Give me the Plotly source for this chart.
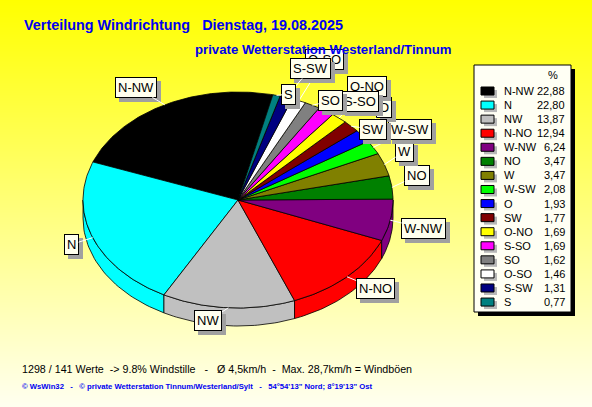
import numpy as np
import plotly.graph_objects as go

# Windrichtungen und Anteile in Prozent (Reihenfolge wie in der Legende)
richtungen = ["N-NW", "N", "NW", "N-NO", "W-NW", "NO", "W", "W-SW",
              "O", "SW", "O-NO", "S-SO", "SO", "O-SO", "S-SW", "S"]
anteile = [22.88, 22.80, 13.87, 12.94, 6.24, 3.47, 3.47, 2.08,
           1.93, 1.77, 1.69, 1.69, 1.62, 1.46, 1.31, 0.77]
farben = ["#000000", "#00FFFF", "#C0C0C0", "#FF0000", "#800080", "#008000",
          "#808000", "#00FF00", "#0000FF", "#800000", "#FFFF00", "#FF00FF",
          "#808080", "#FFFFFF", "#000080", "#008080"]

titel1 = "Verteilung Windrichtung\u00a0\u00a0\u00a0Dienstag, 19.08.2025"
titel2 = "private Wetterstation Westerland/Tinnum"
info1 = ("1298 / 141 Werte \u00a0-> 9.8% Windstille \u00a0\u00a0-\u00a0\u00a0\u00a0\u00d8 4,5km/h"
         " \u00a0- \u00a0Max. 28,7km/h = Windb\u00f6en")
info2 = ("\u00a9 WsWin32 \u00a0\u00a0- \u00a0\u00a0\u00a9 private Wetterstation Tinnum/Westerland/Sylt"
         " \u00a0\u00a0- \u00a0\u00a054\u00b054'13\" Nord; 8\u00b019'13\" Ost")

W, H = 592, 407
cx, cy, rx, ry, tiefe = 238, 200, 155, 108, 18
start = 77  # Winkel der ersten Kante (Grad, gegen den Uhrzeigersinn)

# Verschiebung der Beschriftungskaesten (Pixel), damit sie sich wie im Original verteilen
label_versatz = [(-15, 2), (7, -1), (-18, -9), (7, -4), (4, 4), (-5, -9), (-8, -6),
                 (10, -7), (-3, -15), (0, 18), (8, -15), (17, 8), (4, 15),
                 (14, -21), (15, -8), (5, 20)]


def rand(t, dy=0.0):
    t = np.radians(t)
    return cx + rx * np.cos(t), cy - ry * np.sin(t) + dy


fig = go.Figure()

# Hintergrund mit Verlauf gelb -> hell
fig.add_trace(go.Heatmap(z=[[0, 0], [1, 1]], x=[0, W], y=[0, H], zsmooth="best",
                         colorscale=[[0, "#FFFF00"], [1, "#FFFFF0"]],
                         showscale=False, hoverinfo="skip"))

summe = sum(anteile)
grenzen = [start]
for p in anteile:
    grenzen.append(grenzen[-1] + p / summe * 360)

# Seitenwand (vorne sichtbarer Teil)
for i, farbe in enumerate(farben):
    a0, a1 = max(grenzen[i], 180), min(grenzen[i + 1], 360)
    if a1 <= a0:
        continue
    t = np.linspace(a0, a1, 40)
    ox, oy = rand(t)
    ux, uy = rand(t[::-1], tiefe)
    fig.add_trace(go.Scatter(x=np.concatenate([ox, ux, ox[:1]]),
                             y=np.concatenate([oy, uy, oy[:1]]),
                             fill="toself", fillcolor=farbe, mode="lines",
                             line=dict(color="black", width=0.8),
                             hoverinfo="skip", showlegend=False))

# Oberseite der Tortenstuecke
for i, (name, farbe) in enumerate(zip(richtungen, farben)):
    t = np.linspace(grenzen[i], grenzen[i + 1], max(int(anteile[i] * 4), 6))
    ex, ey = rand(t)
    fig.add_trace(go.Scatter(x=np.concatenate([[cx], ex, [cx]]),
                             y=np.concatenate([[cy], ey, [cy]]),
                             fill="toself", fillcolor=farbe, mode="lines",
                             line=dict(color="black", width=0.8),
                             name=name, hoverinfo="name", showlegend=False))

# Beschriftungen mit Schatten und weisser Fuehrungslinie
for i, name in enumerate(richtungen):
    mitte = (grenzen[i] + grenzen[i + 1]) / 2
    px_, py_ = rand(mitte)
    m = np.radians(mitte)
    lx = cx + (rx + 30) * np.cos(m) + label_versatz[i][0]
    ly = cy - (ry + 22) * np.sin(m) + label_versatz[i][1]
    fig.add_annotation(x=lx, y=ly, text=name, showarrow=False, xshift=4, yshift=-4,
                       font=dict(family="Liberation Sans", size=13, color="#A0A0A0"),
                       bgcolor="#A0A0A0", bordercolor="#A0A0A0", borderwidth=1, borderpad=2)
    fig.add_annotation(x=px_, y=py_, ax=lx, ay=ly, axref="x", ayref="y", text=name,
                       showarrow=True, arrowhead=0, arrowwidth=1, arrowcolor="white",
                       font=dict(family="Liberation Sans", size=13, color="black"),
                       bgcolor="#FFFFEE", bordercolor="black", borderwidth=1, borderpad=2)

# Legende als Tabelle
shapes = [dict(type="rect", x0=478, y0=69, x1=575, y1=316, fillcolor="black",
               line=dict(width=0)),
          dict(type="rect", x0=474, y0=65, x1=571, y1=312, fillcolor="#FFFFF4",
               line=dict(color="black", width=1))]
fig.add_annotation(x=553, y=75, text="%", showarrow=False,
                   font=dict(family="Liberation Sans", size=11, color="black"))
for i, (name, wert, farbe) in enumerate(zip(richtungen, anteile, farben)):
    yz = 91 + i * 14.07
    shapes.append(dict(type="rect", x0=484, y0=yz - 1, x1=497, y1=yz + 7,
                       fillcolor="#B8B8B8", line=dict(width=0)))
    shapes.append(dict(type="rect", x0=481, y0=yz - 4, x1=494, y1=yz + 4,
                       fillcolor=farbe, line=dict(color="black", width=1)))
    fig.add_annotation(x=502, y=yz, text=name, showarrow=False, xanchor="left",
                       font=dict(family="Liberation Sans", size=11, color="black"))
    fig.add_annotation(x=567, y=yz, text=f"{wert:.2f}".replace(".", ","),
                       showarrow=False, xanchor="right",
                       font=dict(family="Liberation Sans", size=11, color="black"))

# Titel und Fusszeilen
fig.add_annotation(x=22, y=25, text=titel1, showarrow=False, xanchor="left",
                   font=dict(family="Liberation Sans", size=14.4, color="#0000F0", weight="bold"))
fig.add_annotation(x=193, y=49, text=titel2, showarrow=False, xanchor="left",
                   font=dict(family="Liberation Sans", size=13.2, color="#0000F0", weight="bold"))
fig.add_annotation(x=20, y=369, text=info1, showarrow=False, xanchor="left",
                   font=dict(family="Liberation Sans", size=10.7, color="black"))
fig.add_annotation(x=20, y=386, text=info2, showarrow=False, xanchor="left",
                   font=dict(family="Liberation Sans", size=7.7, color="#0000F0", weight="bold"))

fig.update_layout(width=W, height=H, margin=dict(l=0, r=0, t=0, b=0),
                  paper_bgcolor="#FFFFF0", plot_bgcolor="#FFFFF0", shapes=shapes,
                  xaxis=dict(range=[0, W], visible=False, fixedrange=True),
                  yaxis=dict(range=[H, 0], visible=False, fixedrange=True),
                  showlegend=False)

fig.write_html("out.html", config={"displayModeBar": False},
               post_script="document.body.style.margin='0';")
